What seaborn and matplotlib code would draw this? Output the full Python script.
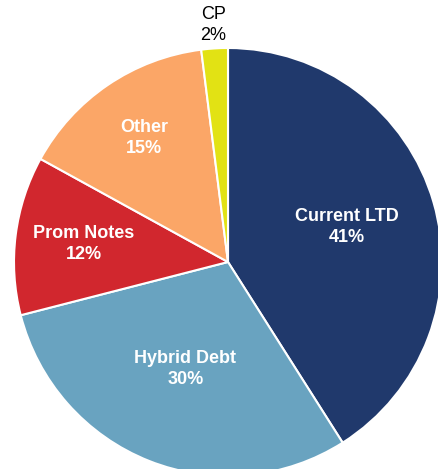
import numpy as np
import matplotlib
matplotlib.use("Agg")
import matplotlib.pyplot as plt
import seaborn as sns

sns.set_theme(style="white")
plt.rcParams["font.family"] = ["Liberation Sans", "DejaVu Sans"]

# dados do gráfico
categories = ["Current LTD", "Hybrid Debt", "Prom Notes", "Other", "CP"]
shares = [41, 30, 12, 15, 2]
colors = ["#20396C", "#69A3C0", "#D1272E", "#FBA667", "#E2E214"]
label_dist = [0.58, 0.54, 0.68, 0.70, 1.11]

fig = plt.figure(figsize=(4.38, 4.69), dpi=100)
ax = fig.add_axes([0, 0, 1, 1])

wedges, _ = ax.pie(shares, colors=colors, startangle=90, counterclock=False,
                   wedgeprops=dict(edgecolor="white", linewidth=1.5))

# rótulos posicionados pelo ângulo de cada fatia
for w, name, val, d in zip(wedges, categories, shares, label_dist):
    ang = np.deg2rad((w.theta1 + w.theta2) / 2)
    x, y = d * np.cos(ang), d * np.sin(ang)
    inside = d < 1
    ax.text(x, y, f"{name}\n{val}%", ha="center", va="center",
            color="white" if inside else "black",
            fontweight="bold" if inside else "normal",
            fontsize=13, linespacing=1.3)

# enquadramento igual ao da referência
r_px = 214
ax.set_xlim(-228 / r_px, (438 - 228) / r_px)
ax.set_ylim((262 - 469) / r_px, 262 / r_px)
ax.set_aspect("equal")
ax.axis("off")

fig.savefig("out.png", dpi=100)
